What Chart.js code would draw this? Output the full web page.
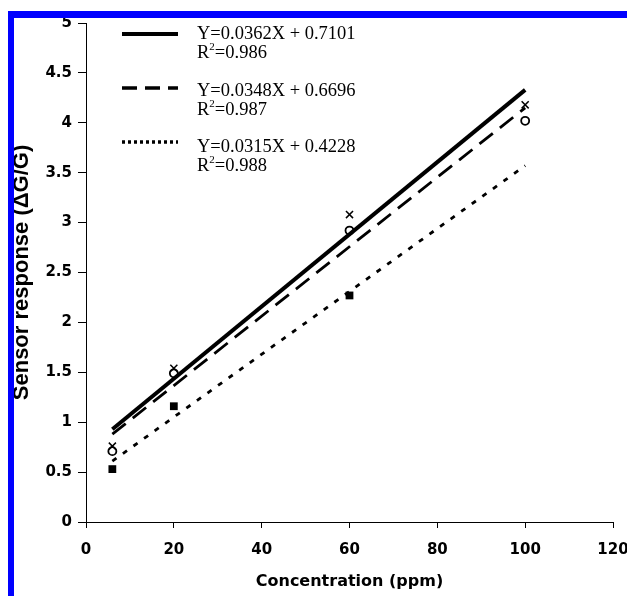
<!DOCTYPE html>
<html>
<head>
<meta charset="utf-8">
<script src="https://cdn.jsdelivr.net/npm/chart.js@4"></script>
<style>
    html, body { margin: 0; padding: 0; background: #fff; }
    #wrap { position: relative; width: 627px; height: 596px; overflow: hidden; }
    #chart { position: absolute; left: 0; top: 0; }
    .bar { position: absolute; background: #0000ff; }
</style>
</head>
<body>
<div id="wrap">
    <canvas id="chart" width="627" height="596"></canvas>
    <div class="bar" style="left:8px; top:11px; width:6px; height:585px;"></div>
    <div class="bar" style="left:8px; top:11px; width:619px; height:7px;"></div>
</div>
<script>
// concentrations (ppm) where the three sensors were measured
const concentrations = [6, 20, 60, 100];
const crossValues = [0.76, 1.54, 3.08, 4.18];
const circleValues = [0.71, 1.49, 2.92, 4.02];
const squareValues = [0.53, 1.16, 2.27];

// end points of the three fitted lines
const fitX = [6, 100];
const solidFit = [0.93, 4.33];
const dashedFit = [0.88, 4.15];
const dottedFit = [0.61, 3.57];

const xTicks = [0, 20, 40, 60, 80, 100, 120];
const yTicks = [0, 0.5, 1, 1.5, 2, 2.5, 3, 3.5, 4, 4.5, 5];

const equations = ["Y=0.0362X + 0.7101", "Y=0.0348X + 0.6696", "Y=0.0315X + 0.4228"];
const rSquared = ["0.986", "0.987", "0.988"];
const legendDash = [[], [15, 8], [3, 3]];

const tickFont = { family: "'DejaVu Sans'", size: 15, weight: "bold" };
const serif = "'Liberation Serif', 'Times New Roman', serif";

function points(xs, ys) {
    return ys.map((y, i) => ({ x: xs[i], y }));
}

function fitLine(values, dash, width) {
    return {
        type: "line",
        data: points(fitX, values),
        borderColor: "#000",
        borderWidth: width,
        borderDash: dash,
        pointRadius: 0,
        showLine: true,
        fill: false,
    };
}

// equations legend in the top left corner of the plot
const equationLegend = {
    id: "equationLegend",
    afterDraw(chart) {
        const ctx = chart.ctx;
        ctx.save();
        equations.forEach((eq, i) => {
            const lineY = 34 + i * 54;
            const textY = 39 + i * 56.5;
            ctx.strokeStyle = "#000";
            ctx.lineWidth = i === 0 ? 4 : 3.5;
            ctx.setLineDash(legendDash[i]);
            ctx.beginPath();
            ctx.moveTo(122, lineY);
            ctx.lineTo(178, lineY);
            ctx.stroke();
            ctx.setLineDash([]);

            ctx.fillStyle = "#000";
            ctx.textBaseline = "alphabetic";
            ctx.font = `18.5px ${serif}`;
            ctx.fillText(eq, 197, textY);
            ctx.fillText("R", 197, textY + 19);
            const rw = ctx.measureText("R").width;
            ctx.font = `11px ${serif}`;
            ctx.fillText("2", 197 + rw, textY + 11);
            const sw = ctx.measureText("2").width;
            ctx.font = `18.5px ${serif}`;
            ctx.fillText("=" + rSquared[i], 197 + rw + sw, textY + 19);
        });
        ctx.restore();
    },
};

new Chart(document.getElementById("chart"), {
    type: "scatter",
    data: {
        datasets: [
            fitLine(solidFit, [], 4),
            fitLine(dashedFit, [17, 9], 2.8),
            fitLine(dottedFit, [5, 8], 2.8),
            {
                data: points(concentrations, crossValues),
                pointStyle: "crossRot",
                pointRadius: 5,
                borderColor: "#000",
                borderWidth: 1.5,
                showLine: false,
            },
            {
                data: points(concentrations, circleValues),
                pointStyle: "circle",
                pointRadius: 4,
                backgroundColor: "#fff",
                borderColor: "#000",
                borderWidth: 1.8,
                showLine: false,
            },
            {
                data: points(concentrations, squareValues),
                pointStyle: "rect",
                pointRadius: 5.5,
                backgroundColor: "#000",
                borderColor: "#000",
                borderWidth: 0,
                showLine: false,
            },
        ],
    },
    options: {
        responsive: false,
        animation: false,
        layout: { padding: { left: 0, right: 14, top: 23, bottom: 0 } },
        plugins: { legend: { display: false }, tooltip: { enabled: false } },
        scales: {
            x: {
                type: "linear",
                min: 0,
                max: 120,
                afterBuildTicks: (scale) => { scale.ticks = xTicks.map((v) => ({ value: v })); },
                afterFit: (scale) => {
                    scale.height = 74;
                    scale.paddingLeft = 0;
                    scale.paddingRight = 0;
                },
                border: { display: true, color: "#000", width: 1 },
                grid: { drawOnChartArea: false, drawTicks: true, tickLength: 6, color: "#000" },
                ticks: { color: "#000", font: tickFont, padding: 13, maxRotation: 0 },
                title: {
                    display: true,
                    text: "Concentration (ppm)",
                    color: "#000",
                    font: { family: "'DejaVu Sans'", size: 16, weight: "bold" },
                    padding: { top: 0, bottom: 5 },
                },
            },
            y: {
                min: 0,
                max: 5,
                afterBuildTicks: (scale) => { scale.ticks = yTicks.map((v) => ({ value: v })); },
                afterFit: (scale) => {
                    scale.width = 86;
                    scale.paddingTop = 0;
                    scale.paddingBottom = 0;
                },
                border: { display: true, color: "#000", width: 1 },
                grid: { drawOnChartArea: false, drawTicks: true, tickLength: 8, color: "#000" },
                ticks: { color: "#000", font: tickFont, padding: 6, callback: (v) => String(v) },
                title: {
                    display: true,
                    text: "Sensor response (\u0394G/G)",
                    color: "#000",
                    font: { family: "Arial, 'Liberation Sans'", size: 22, weight: "bold" },
                    padding: { top: 9, bottom: 0 },
                },
            },
        },
    },
    plugins: [equationLegend],
});
</script>
</body>
</html>
